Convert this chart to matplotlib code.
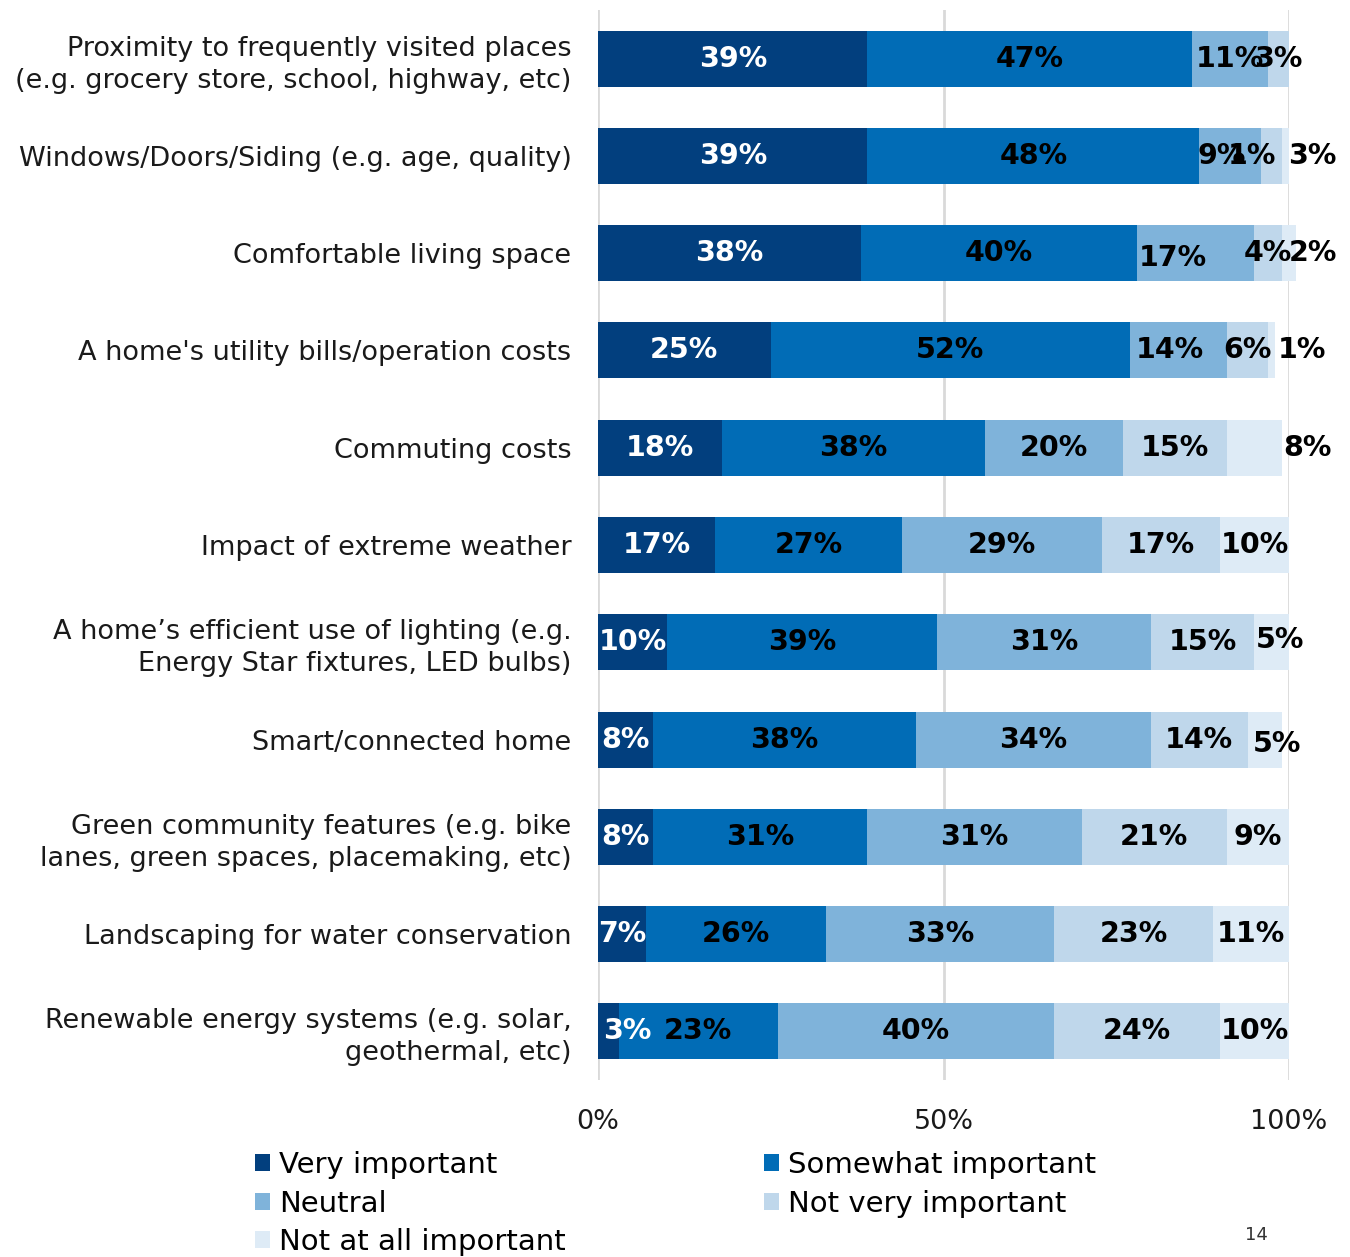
import matplotlib
matplotlib.use("Agg")
import matplotlib.pyplot as plt
from matplotlib.patches import Patch

plt.rcParams['font.family'] = ['DejaVu Sans']

categories = [
    "Proximity to frequently visited places\n(e.g. grocery store, school, highway, etc)",
    "Windows/Doors/Siding (e.g. age, quality)",
    "Comfortable living space",
    "A home's utility bills/operation costs",
    "Commuting costs",
    "Impact of extreme weather",
    "A home\u2019s efficient use of lighting (e.g.\nEnergy Star fixtures, LED bulbs)",
    "Smart/connected home",
    "Green community features (e.g. bike\nlanes, green spaces, placemaking, etc)",
    "Landscaping for water conservation",
    "Renewable energy systems (e.g. solar,\ngeothermal, etc)",
]

series_names = ["Very important", "Somewhat important", "Neutral",
                "Not very important", "Not at all important"]

very_important      = [39, 39, 38, 25, 18, 17, 10, 8, 8, 7, 3]
somewhat_important  = [47, 48, 40, 52, 38, 27, 39, 38, 31, 26, 23]
neutral             = [11, 9, 17, 14, 20, 29, 31, 34, 31, 33, 40]
not_very_important  = [3, 3, 4, 6, 15, 17, 15, 14, 21, 23, 24]
not_at_all_important = [0, 1, 2, 1, 8, 10, 5, 5, 9, 11, 10]

x_ticks = [0, 50, 100]
x_tick_labels = ["0%", "50%", "100%"]

# styling (not data)
colors = ["#023f7e", "#016cb6", "#7fb3da", "#bfd7eb", "#deebf6"]
label_colors = ["white", "black", "black", "black", "black"]
# manual label nudges (row, series) -> (dx in %, dy in rows), mimicking original placement
label_nudge = {
    (1, 2): (-1.3, 0.0), (1, 3): (5.9, 0.0), (1, 4): (-4.9, 0.0),
    (2, 2): (-3.3, 0.05), (2, 4): (3.5, 0.0),
    (3, 2): (-1.3, 0.0), (3, 4): (4.3, 0.0),
    (4, 4): (7.7, 0.0),
    (6, 4): (1.2, -0.02),
    (7, 4): (1.7, 0.05),
    (10, 0): (2.7, 0.0),
}

W, H = 1350, 1257
fig = plt.figure(figsize=(W / 100, H / 100), dpi=100)
ax = fig.add_axes([598 / W, 1 - 1080 / H, 691 / W, 1070 / H])

series = [very_important, somewhat_important, neutral,
          not_very_important, not_at_all_important]
ypos = list(range(len(categories)))
left = [0] * len(categories)
for s, (vals, col) in enumerate(zip(series, colors)):
    ax.barh(ypos, vals, left=left, height=0.575, color=col,
            edgecolor="none", clip_on=False, zorder=2)
    for i, v in enumerate(vals):
        if v <= 0:
            continue
        dx, dy = label_nudge.get((i, s), (0, 0))
        ax.text(left[i] + v / 2 + dx, i + dy, f"{v}%", ha="center", va="center",
                fontsize=20.5, fontweight="bold", color=label_colors[s],
                zorder=3, clip_on=False)
    left = [l + v for l, v in zip(left, vals)]

ax.set_xlim(0, 100)
ax.set_ylim(len(categories) - 0.5, -0.5)
ax.set_xticks(x_ticks)
ax.set_xticklabels(x_tick_labels, fontsize=19.5, color="#1a1a1a")
ax.set_yticks(ypos)
ax.set_yticklabels(categories, fontsize=19.5, color="#1a1a1a", linespacing=1.3)
ax.tick_params(axis="x", length=0, pad=21)
ax.tick_params(axis="y", length=0, pad=19)
for sp in ax.spines.values():
    sp.set_visible(False)
ax.set_axisbelow(True)
ax.xaxis.grid(True, color="#d9d9d9", linewidth=2)

# legend: order for column-major fill to get row-wise appearance
order = [0, 2, 4, 1, 3]
handles = [Patch(facecolor=colors[k], edgecolor="none", label=series_names[k]) for k in order]
fig.legend(handles=handles, loc="upper left", bbox_to_anchor=(255 / W, 1 - 1151 / H),
           ncol=2, frameon=False, fontsize=21, handlelength=0.52, handleheight=0.52,
           handletextpad=0.3, columnspacing=6.8, labelspacing=0.36,
           borderpad=0, borderaxespad=0)

fig.text(1256 / W, 1 - 1235 / H, "14", fontsize=13, ha="center", va="center", color="#333333")

fig.savefig("out.png", dpi=100)
